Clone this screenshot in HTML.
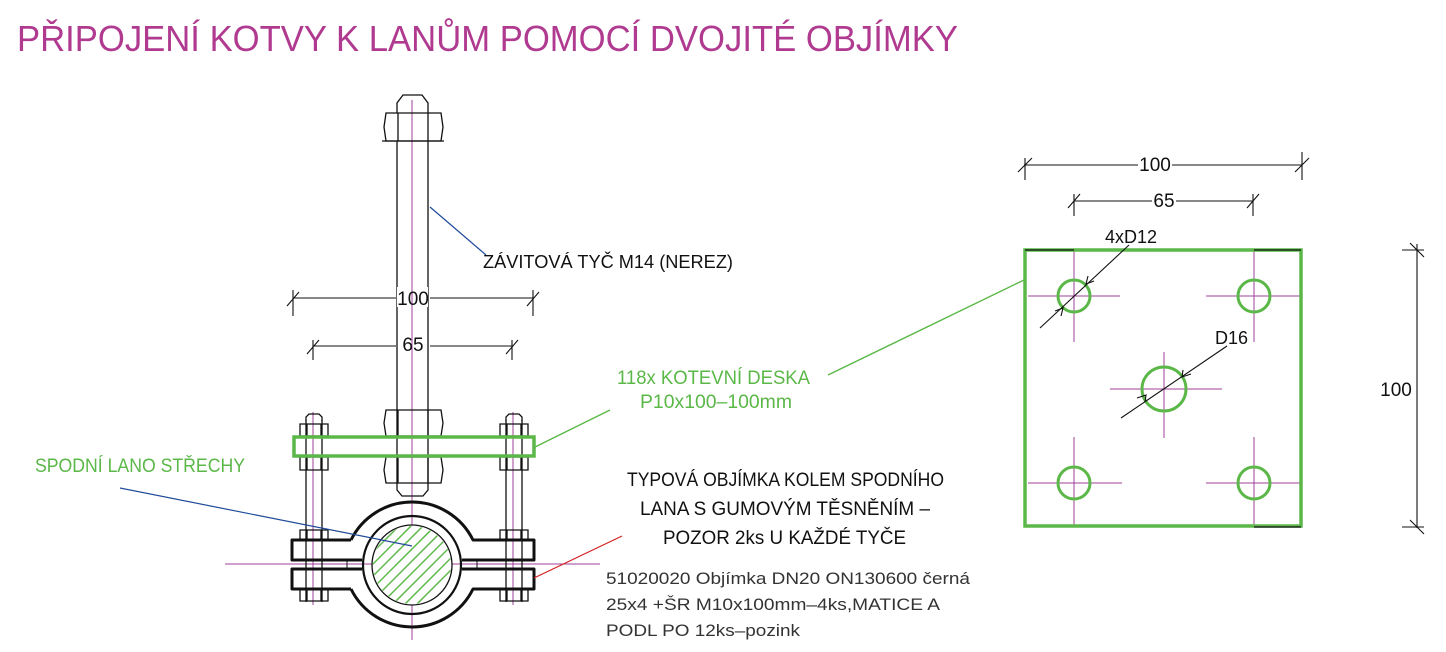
<!DOCTYPE html>
<html><head><meta charset="utf-8"><style>
html,body{margin:0;padding:0;background:#fff;}
svg{display:block;}
text{font-family:"Liberation Sans",sans-serif;}
</style></head><body>
<svg width="1446" height="652" viewBox="0 0 1446 652" xmlns="http://www.w3.org/2000/svg">
<text x="17" y="51" font-size="36" fill="#b03a90" textLength="941" lengthAdjust="spacingAndGlyphs">PŘIPOJENÍ KOTVY K LANŮM POMOCÍ DVOJITÉ OBJÍMKY</text>

<!-- centerlines -->
<g stroke="#a0409a" stroke-width="1">
<line x1="412" y1="100" x2="412" y2="640"/>
<line x1="225" y1="564" x2="600" y2="564"/>
<line x1="313" y1="412" x2="313" y2="605"/>
<line x1="513" y1="412" x2="513" y2="605"/>
</g>

<g stroke="#111" stroke-width="1.3" fill="none">
<line x1="397" y1="141" x2="397" y2="483"/>
<line x1="428" y1="141" x2="428" y2="483"/>
<path d="M397 113 V103 L403 95 H422 L428 103 V113"/>
<path d="M386 113 H441 L443 127 L441 141 H386 L384 127 Z"/>
<line x1="398" y1="113" x2="398" y2="141"/><line x1="428" y1="113" x2="428" y2="141"/>
<line x1="382" y1="141" x2="444" y2="141"/>
<path d="M386 410 H441 L443 423 L441 436 H386 L384 423 Z"/>
<line x1="398" y1="410" x2="398" y2="436"/><line x1="428" y1="410" x2="428" y2="436"/>
<path d="M386 457 H441 L443 470 L441 483 H386 L384 470 Z"/>
<line x1="398" y1="457" x2="398" y2="483"/><line x1="428" y1="457" x2="428" y2="483"/>
<path d="M397 483 V490 L402 496 H423 L428 490 V483"/>
<g id="b">
<line x1="306" y1="420" x2="306" y2="602"/><line x1="322" y1="420" x2="322" y2="602"/>
<path d="M306 421 V417 L309 414 H319 L322 417 V421"/>
<path d="M300 424 H328 V436 H300 Z"/><line x1="307" y1="424" x2="307" y2="436"/><line x1="321" y1="424" x2="321" y2="436"/>
<path d="M300 457 H328 V470 H300 Z"/><line x1="307" y1="457" x2="307" y2="470"/><line x1="321" y1="457" x2="321" y2="470"/>
<path d="M300 540 V530 H328 V540"/><line x1="307" y1="530" x2="307" y2="540"/><line x1="321" y1="530" x2="321" y2="540"/>
<path d="M300 588 V601 H328 V588"/><line x1="307" y1="588" x2="307" y2="601"/><line x1="321" y1="588" x2="321" y2="601"/>
</g>
<use href="#b" transform="translate(200,0)"/>
</g>

<!-- clamp -->
<circle cx="412" cy="565" r="40" fill="#fff" stroke="#111" stroke-width="1.3"/>
<clipPath id="c"><circle cx="412" cy="565" r="39"/></clipPath>
<g clip-path="url(#c)" stroke="#5bb848" stroke-width="1.5">
<line x1="300" y1="625" x2="420" y2="505"/>
<line x1="312" y1="625" x2="432" y2="505"/>
<line x1="324" y1="625" x2="444" y2="505"/>
<line x1="336" y1="625" x2="456" y2="505"/>
<line x1="348" y1="625" x2="468" y2="505"/>
<line x1="360" y1="625" x2="480" y2="505"/>
<line x1="372" y1="625" x2="492" y2="505"/>
<line x1="384" y1="625" x2="504" y2="505"/>
<line x1="396" y1="625" x2="516" y2="505"/>
<line x1="408" y1="625" x2="528" y2="505"/>
<line x1="420" y1="625" x2="540" y2="505"/>
</g>
<g stroke="#111" stroke-width="3" fill="none" stroke-linejoin="round">
<circle cx="412" cy="565" r="49" stroke-width="2.2"/>
<path d="M351 540 A68 68 0 0 1 473 540 H534 V560 H462"/>
<path d="M362 560 H292 V540 H351"/>
<path d="M351 589 A68 68 0 0 0 473 589 H534 V569 H462"/>
<path d="M362 569 H292 V589 H351"/>
</g>
<g stroke="#111" stroke-width="1"><line x1="347" y1="560" x2="347" y2="569"/><line x1="477" y1="560" x2="477" y2="569"/></g>

<rect x="294" y="437" width="240" height="19" fill="none" stroke="#5bb848" stroke-width="3.5"/>

<g stroke="#111" stroke-width="1.1">
<line x1="293" y1="298" x2="396" y2="298"/><line x1="430" y1="298" x2="533" y2="298"/>
<line x1="293" y1="290" x2="293" y2="316"/><line x1="533" y1="290" x2="533" y2="316"/>
<line x1="287" y1="306" x2="299" y2="292"/><line x1="527" y1="306" x2="539" y2="292"/>
<line x1="313" y1="346" x2="396" y2="346"/><line x1="430" y1="346" x2="512" y2="346"/>
<line x1="313" y1="340" x2="313" y2="360"/><line x1="512" y1="340" x2="512" y2="360"/>
<line x1="307" y1="354" x2="319" y2="340"/><line x1="506" y1="354" x2="518" y2="340"/>
</g>
<rect x="397" y="287" width="31" height="20" fill="#fff"/>
<rect x="399" y="333" width="27" height="20" fill="#fff"/>
<line x1="412" y1="287" x2="412" y2="353" stroke="#a0409a"/>
<text x="413" y="305" font-size="19" text-anchor="middle" fill="#111">100</text>
<text x="413" y="351" font-size="19" text-anchor="middle" fill="#111">65</text>

<line x1="430" y1="207" x2="486" y2="255" stroke="#1f4a9a" stroke-width="1.2"/>
<line x1="120" y1="488" x2="412" y2="546" stroke="#1f4a9a" stroke-width="1.2"/>
<line x1="535" y1="447" x2="610" y2="410" stroke="#5bb848" stroke-width="1.4"/>
<line x1="828" y1="375" x2="1024" y2="280" stroke="#5bb848" stroke-width="1.4"/>
<line x1="534" y1="578" x2="622" y2="536" stroke="#d42020" stroke-width="1.2"/>

<text x="483" y="268" font-size="18" fill="#111" textLength="250" lengthAdjust="spacingAndGlyphs">ZÁVITOVÁ TYČ M14 (NEREZ)</text>
<text x="617" y="384" font-size="19" fill="#5bb848" textLength="193" lengthAdjust="spacingAndGlyphs">118x KOTEVNÍ DESKA</text>
<text x="640" y="408" font-size="19" fill="#5bb848" textLength="152" lengthAdjust="spacingAndGlyphs">P10x100–100mm</text>
<text x="35" y="472" font-size="19" fill="#5bb848" textLength="210" lengthAdjust="spacingAndGlyphs">SPODNÍ LANO STŘECHY</text>
<text x="627" y="486" font-size="19" fill="#111" textLength="317" lengthAdjust="spacingAndGlyphs">TYPOVÁ OBJÍMKA KOLEM SPODNÍHO</text>
<text x="640" y="515" font-size="19" fill="#111" textLength="290" lengthAdjust="spacingAndGlyphs">LANA S GUMOVÝM TĚSNĚNÍM –</text>
<text x="663" y="544" font-size="19" fill="#111" textLength="243" lengthAdjust="spacingAndGlyphs">POZOR 2ks U KAŽDÉ TYČE</text>
<text x="606" y="584" font-size="17" fill="#333" textLength="364" lengthAdjust="spacingAndGlyphs">51020020 Objímka DN20 ON130600 černá</text>
<text x="606" y="610" font-size="17" fill="#333" textLength="334" lengthAdjust="spacingAndGlyphs">25x4 +ŠR M10x100mm–4ks,MATICE A</text>
<text x="606" y="636" font-size="17" fill="#333" textLength="194" lengthAdjust="spacingAndGlyphs">PODL PO 12ks–pozink</text>

<g stroke="#a0409a" stroke-width="1">
<line x1="1074" y1="250" x2="1074" y2="342"/><line x1="1028" y1="296" x2="1120" y2="296"/>
<line x1="1254" y1="250" x2="1254" y2="342"/><line x1="1206" y1="296" x2="1300" y2="296"/>
<line x1="1074" y1="437" x2="1074" y2="527"/><line x1="1028" y1="483" x2="1122" y2="483"/>
<line x1="1254" y1="437" x2="1254" y2="527"/><line x1="1206" y1="483" x2="1300" y2="483"/>
<line x1="1164" y1="352" x2="1164" y2="438"/><line x1="1110" y1="389" x2="1222" y2="389"/>
</g>
<rect x="1025" y="250" width="276" height="276" fill="none" stroke="#5bb848" stroke-width="3.5"/>
<g stroke="#111" stroke-width="1.3"><line x1="1025" y1="250" x2="1074" y2="250"/><line x1="1254" y1="250" x2="1301" y2="250"/><line x1="1254" y1="527" x2="1301" y2="527"/></g>
<g fill="none" stroke="#5bb848" stroke-width="3">
<circle cx="1074" cy="296" r="16"/><circle cx="1254" cy="296" r="16"/>
<circle cx="1074" cy="483" r="16"/><circle cx="1254" cy="483" r="16"/>
<circle cx="1164" cy="389" r="22"/>
</g>
<g stroke="#111" stroke-width="1.1" fill="none">
<line x1="1040" y1="328" x2="1129" y2="245"/>
<path d="M1088 276 L1086 284 L1094 281"/><path d="M1061 316 L1063 308 L1055 311"/>
<line x1="1121" y1="418" x2="1227" y2="346"/>
<path d="M1183 370 L1182 377 L1191 374"/><path d="M1145 402 L1146 395 L1137 398"/>
<line x1="1024" y1="165" x2="1138" y2="165"/><line x1="1172" y1="165" x2="1302" y2="165"/>
<line x1="1025" y1="158" x2="1025" y2="180"/><line x1="1302" y1="152" x2="1302" y2="180"/>
<line x1="1018" y1="172" x2="1032" y2="158"/><line x1="1295" y1="172" x2="1309" y2="158"/>
<line x1="1074" y1="201" x2="1152" y2="201"/><line x1="1176" y1="201" x2="1253" y2="201"/>
<line x1="1074" y1="194" x2="1074" y2="216"/><line x1="1253" y1="194" x2="1253" y2="216"/>
<line x1="1068" y1="208" x2="1080" y2="194"/><line x1="1247" y1="208" x2="1259" y2="194"/>
<line x1="1417" y1="244" x2="1417" y2="528"/>
<line x1="1402" y1="250" x2="1424" y2="250"/><line x1="1402" y1="527" x2="1424" y2="527"/>
<line x1="1410" y1="243" x2="1424" y2="257"/><line x1="1410" y1="520" x2="1424" y2="534"/>
</g>
<text x="1155" y="171" font-size="19" text-anchor="middle" fill="#111">100</text>
<text x="1164" y="207" font-size="19" text-anchor="middle" fill="#111">65</text>
<text x="1105" y="243" font-size="18" fill="#111">4xD12</text>
<text x="1215" y="344" font-size="18" fill="#111">D16</text>
<text x="1396" y="396" font-size="19" text-anchor="middle" fill="#111">100</text>
</svg>
</body></html>
